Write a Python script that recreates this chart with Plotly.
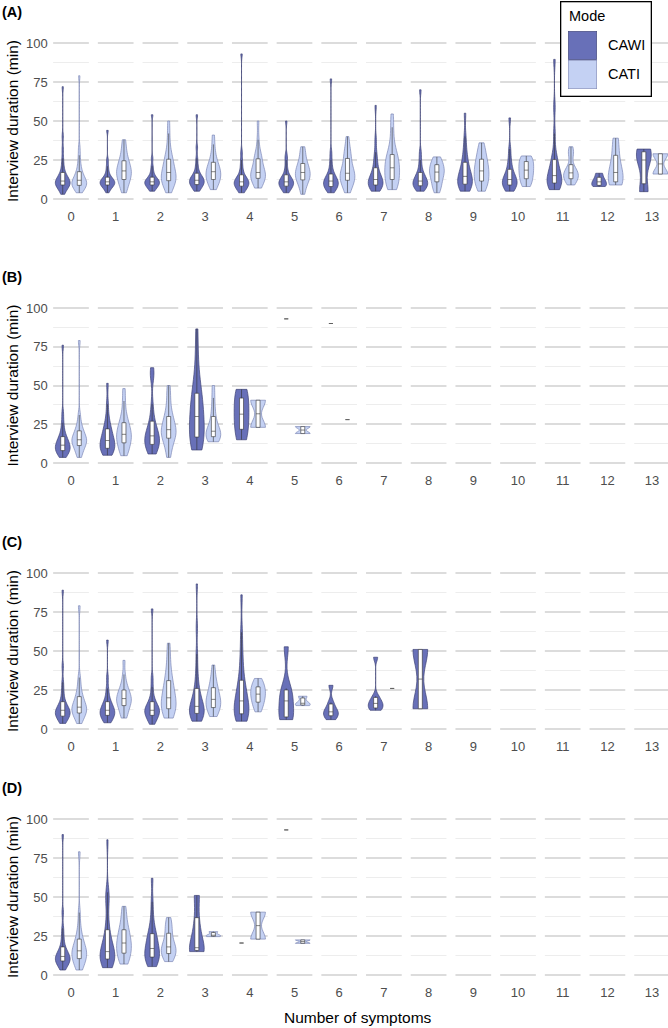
import numpy as np
import plotly.graph_objects as go

FIG_W, FIG_H = 668, 1028

# ---------------- data (interview duration in minutes) -------------
symptom_counts = list(range(14))
tick_labels = [str(c) for c in symptom_counts]
y_ticks = [0, 25, 50, 75, 100]
y_minor = [12.5, 37.5, 62.5, 87.5]
modes = ["CAWI", "CATI"]
panel_names = ["A", "B", "C", "D"]

A_CAWI = [
    [3, 5, 6, 7, 8, 8, 9, 9, 10, 10, 11, 11, 11, 12, 12, 13, 14, 15, 15, 17, 19, 22, 26, 32, 40, 72],
    [4, 6, 7, 8, 8, 9, 9, 10, 10, 11, 11, 11, 12, 12, 13, 14, 14, 16, 18, 21, 25, 44],
    [5, 6, 7, 8, 8, 9, 9, 10, 10, 11, 11, 11, 12, 12, 13, 14, 14, 16, 18, 21, 26, 54],
    [5, 6, 7, 8, 9, 9, 10, 10, 11, 11, 12, 12, 13, 13, 14, 15, 15, 17, 19, 22, 26, 33, 54],
    [4, 5, 6, 7, 8, 8, 9, 9, 10, 10, 11, 11, 12, 12, 13, 14, 14, 16, 18, 21, 25, 30, 93],
    [4, 5, 6, 7, 8, 8, 9, 9, 10, 10, 11, 11, 12, 12, 13, 14, 14, 16, 18, 21, 25, 28, 50],
    [4, 5, 6, 7, 8, 8, 9, 9, 10, 11, 11, 12, 12, 13, 14, 15, 16, 18, 21, 25, 30, 77],
    [5, 6, 7, 8, 8, 9, 10, 10, 11, 11, 12, 13, 14, 15, 16, 18, 20, 23, 26, 30, 38, 60],
    [5, 6, 7, 8, 8, 9, 10, 10, 11, 11, 12, 13, 14, 15, 16, 18, 21, 25, 30, 70],
    [5, 6, 7, 8, 9, 10, 11, 12, 13, 14, 15, 16, 18, 20, 22, 25, 28, 33, 40, 55],
    [5, 6, 7, 8, 9, 10, 11, 11, 12, 13, 14, 15, 17, 19, 22, 26, 32, 52],
    [6, 7, 8, 9, 10, 11, 12, 13, 14, 15, 17, 19, 21, 23, 26, 30, 42, 59, 89.5],
    [8, 9, 11, 13, 16.5],
    [4.7, 25, 32],
]
A_CATI = [
    [4, 5, 6, 7, 8, 8, 9, 9, 10, 10, 11, 11, 12, 12, 13, 14, 15, 16, 17, 19, 21, 24, 28, 33, 79],
    [4, 7, 9, 11, 12, 14, 15, 16, 17, 18, 19, 20, 22, 23, 25, 27, 30, 34, 38],
    [4, 7, 9, 10, 11, 12, 13, 14, 15, 16, 17, 18, 20, 22, 24, 25, 27, 30, 35, 42, 50],
    [6, 8, 10, 11, 12, 13, 14, 15, 16, 17, 18, 19, 20, 21, 23, 24, 27, 30, 35, 41],
    [7, 9, 11, 12, 13, 14, 15, 16, 16, 17, 18, 20, 22, 25, 26, 28, 30, 38, 50],
    [3, 6, 9, 11, 12, 13, 14, 15, 16, 17, 18, 19, 20, 22, 23, 25, 28, 31, 33.5],
    [4, 7, 9, 11, 12, 13, 14, 15, 16, 17, 18, 20, 23, 26, 28, 30, 34, 40],
    [6, 8, 9, 10, 12, 14, 16, 18, 19, 20, 22, 24, 26, 27, 29, 32, 38, 46, 54.5],
    [4, 7, 9, 11, 13, 15, 17, 17.5, 18, 20, 22, 23, 25, 27],
    [5, 8, 10, 11, 13, 15, 17, 18, 20, 22, 24, 26, 29, 32, 36],
    [8, 10, 12, 14, 16, 18, 19, 21, 23, 25, 26, 27.6],
    [9, 11, 12, 13, 14, 15, 16.5, 17, 18, 19, 22, 28, 30, 33.5],
    [9, 10, 14, 17, 22, 30, 39],
    [16, 29],
]

B_CAWI = [
    [3.6, 5, 6, 7, 7, 8, 9, 10, 10, 11, 11, 12, 13, 14, 15, 16, 17, 19, 22, 26, 32, 76],
    [5, 6, 7, 8, 9, 10, 11, 12, 13, 14, 15, 16, 18, 20, 21, 23, 26, 30, 38, 51.4],
    [5.8, 7, 8, 10, 11, 12, 13, 14, 15, 16, 17, 18, 19, 21, 22, 24, 27, 31, 38, 55, 58, 61.5],
    [8.4, 10, 12, 14, 16, 19, 22, 25, 27, 30, 33, 36, 40, 42, 46, 50, 58, 70, 86.5],
    [15, 24, 31.5, 40, 47.5],
    [93],
    [90],
    [], [], [], [], [], [], [],
]
B_CATI = [
    [3.6, 6, 8, 10, 11, 12, 13, 14, 15, 15, 16, 17, 18, 20, 21, 23, 26, 31, 79],
    [4.7, 7, 9, 11, 13, 14, 16, 17, 18, 19, 21, 23, 24, 26, 29, 33, 40, 48],
    [3.6, 8, 12, 14, 16, 18, 19, 20, 21, 22, 24, 26, 28, 30, 33, 38, 44, 50],
    [13.7, 15, 16, 17, 18, 19, 20, 21, 23, 26, 30, 35, 42, 50],
    [23, 40.5],
    [19, 23.5],
    [28],
    [], [], [], [], [], [], [],
]

C_CAWI = [
    [3.6, 5, 6, 7, 8, 8, 9, 10, 10, 11, 11, 12, 12, 13, 14, 15, 16, 18, 21, 25, 30, 40, 89],
    [4, 5, 6, 7, 8, 9, 10, 10, 11, 11, 12, 13, 14, 15, 16, 17, 19, 22, 26, 33, 57],
    [3, 5, 6, 7, 8, 9, 10, 11, 11, 12, 12, 13, 14, 15, 16, 17, 19, 22, 27, 33, 77],
    [5, 6, 7, 8, 9, 10, 11, 12, 13, 13, 14, 15, 17, 19, 21, 23, 26, 31, 38, 48, 65, 93],
    [5, 6, 7, 8, 9, 10, 12, 13, 15, 16, 18, 20, 22, 25, 27, 30, 35, 42, 50, 62, 86],
    [6, 7, 10, 18, 22, 26, 52.7],
    [6, 8, 10, 11, 13, 17, 28],
    [12, 13, 15, 16.4, 18, 21, 46],
    [13, 51],
    [], [], [], [], [],
]
C_CATI = [
    [3.5, 6, 8, 9, 10, 11, 12, 13, 13.5, 14, 15, 16, 18, 20, 21, 24, 28, 33, 79],
    [7, 9, 11, 13, 15, 16, 17, 18, 19, 20, 21, 22, 24, 25, 27, 30, 35, 44],
    [7, 9, 11, 12, 13, 15, 17, 18, 19, 21, 23, 26, 29, 31, 34, 40, 47, 55],
    [8, 10, 12, 13, 14, 16, 17, 18, 19, 20, 22, 24, 26, 28, 31, 35, 41],
    [11, 14, 16.4, 18, 20, 21.7, 23, 25, 26, 28, 30, 32.4],
    [15, 16.5, 21],
    [],
    [26],
    [], [], [], [], [], [],
]

D_CAWI = [
    [3.2, 5, 6, 7, 8, 9, 9, 10, 10, 11, 11.8, 12, 13, 14, 15, 16, 18, 21, 25, 30, 40, 90],
    [4.7, 6, 7, 8, 9, 10, 11, 12, 13, 14, 14.3, 15, 17, 19, 21, 23, 26, 30, 36, 47, 50, 53, 86.7],
    [5.4, 7, 8, 9, 10, 12, 13, 14, 15, 16, 17, 19, 21, 23, 24, 26, 28, 32, 38, 47, 62],
    [15, 16, 17.5, 32, 51],
    [20.5],
    [93],
    [], [], [], [], [], [], [], [],
]
D_CATI = [
    [3.2, 5, 7, 8, 10, 11, 12, 13, 14, 15, 16, 17, 18, 20, 22, 24, 27, 32, 40, 79],
    [7, 9, 11, 12, 14, 16, 17, 19, 20, 21, 23, 25, 27, 29, 31, 35, 40, 44],
    [8.6, 10, 12, 13, 14, 15, 16, 17, 18, 19, 21, 23, 26, 29, 31, 34, 36.8],
    [24.6, 25.5, 27.8],
    [23, 40.3],
    [20.3, 22.5],
    [], [], [], [], [], [], [], [],
]

DATA = {
    ("A", "CAWI"): A_CAWI, ("A", "CATI"): A_CATI,
    ("B", "CAWI"): B_CAWI, ("B", "CATI"): B_CATI,
    ("C", "CAWI"): C_CAWI, ("C", "CATI"): C_CATI,
    ("D", "CAWI"): D_CAWI, ("D", "CATI"): D_CATI,
}

# ---------------- style / layout ---------------------------------------------------------
FONT = "Liberation Sans, Arial, Helvetica, sans-serif"
FILL = {"CAWI": "#6870B8", "CATI": "#C4D1F3"}
EDGE = {"CAWI": "#3F4475", "CATI": "#7D86B5"}
DODGE = {"CAWI": -0.185, "CATI": 0.185}
VIOLIN_W = 0.33

# pixel rows of the 100 and 0 gridlines of each panel
panel_px = [(43, 199), (308, 463), (573, 729), (819, 975)]
cat0_px, cat_step = 71.0, 44.7
x_left_px = cat0_px - 0.5 * cat_step
x_range = [-0.5, (FIG_W - cat0_px) / cat_step]


def px_x(p):
    return p / FIG_W


def px_y(p):
    return 1 - p / FIG_H


def bw_nrd0(vals):
    """Kernel bandwidth rule used by ggplot2's geom_violin (R's bw.nrd0)."""
    v = np.asarray(vals, dtype=float)
    sd = v.std(ddof=1)
    q1, q3 = np.percentile(v, [25, 75])
    lo = min(sd, (q3 - q1) / 1.34)
    if lo <= 0:
        lo = sd if sd > 0 else (abs(v[0]) if v[0] != 0 else 1.0)
    return 0.9 * lo * len(v) ** -0.2


fig = go.Figure()
layout = dict(
    width=FIG_W, height=FIG_H,
    margin=dict(l=0, r=0, t=0, b=0),
    paper_bgcolor="white", plot_bgcolor="white",
    showlegend=False,
    violinmode="overlay", boxmode="overlay",
    font=dict(family=FONT, color="#000000"),
)
shapes, annotations = [], []

for i, (pname, (y100, y0)) in enumerate(zip(panel_names, panel_px)):
    s = "" if i == 0 else str(i + 1)
    xa, ya = "x" + s, "y" + s
    ppu = (y0 - y100) / 100.0
    top, bot = y100 - 5 * ppu, y0 + 5 * ppu
    layout["xaxis" + s] = dict(
        domain=[px_x(x_left_px), 1], range=x_range, anchor=ya,
        tickmode="array", tickvals=symptom_counts, ticktext=tick_labels,
        showgrid=False, zeroline=False, showline=False, ticks="",
        tickfont=dict(size=13, color="#4D4D4D", family=FONT),
    )
    layout["yaxis" + s] = dict(
        domain=[px_y(bot), px_y(top)], range=[-5, 105], anchor=xa,
        tickmode="array", tickvals=y_ticks,
        showgrid=True, gridcolor="#DCDCDC", gridwidth=1.5,
        minor=dict(tickmode="array", tickvals=y_minor, showgrid=True,
                   gridcolor="#EDEDED", gridwidth=0.9),
        zeroline=False, showline=False, ticks="",
        tickfont=dict(size=13, color="#4D4D4D", family=FONT),
    )
    # white gaps between symptom categories (drawn over the gridlines, under the violins)
    for k in range(-1, len(symptom_counts)):
        shapes.append(dict(type="line", xref=xa, yref=ya,
                           x0=k + 0.5, x1=k + 0.5, y0=-5, y1=105,
                           line=dict(color="white", width=9), layer="between"))
    # panel tag
    annotations.append(dict(text="<b>(%s)</b>" % pname, xref="paper", yref="paper",
                            x=0.0, y=px_y(y100 - 31), xanchor="left", yanchor="middle",
                            showarrow=False, font=dict(size=14.5, color="black", family=FONT)))
    # y title
    annotations.append(dict(text="Interview duration (min)", xref="paper", yref="paper",
                            x=px_x(12), y=px_y((top + bot) / 2), textangle=-90,
                            xanchor="center", yanchor="middle", showarrow=False,
                            font=dict(size=15.5, color="black", family=FONT)))

    for mode in modes:
        groups = DATA[(pname, mode)]
        for c, vals in zip(symptom_counts, groups):
            if len(vals) == 0:
                continue
            pos = c + DODGE[mode]
            if len(vals) >= 2:
                fig.add_trace(go.Violin(
                    x=[pos] * len(vals), y=vals, xaxis=xa, yaxis=ya, name=mode,
                    width=VIOLIN_W, scalemode="width", spanmode="hard",
                    bandwidth=bw_nrd0(vals),
                    fillcolor=FILL[mode], opacity=1,
                    line=dict(color=EDGE[mode], width=0.7),
                    box=dict(visible=True, width=0.27, fillcolor="white",
                             line=dict(color="#333333", width=0.6)),
                    meanline=dict(visible=False), points=False,
                    hoverinfo="skip", showlegend=False,
                ))
            else:
                fig.add_trace(go.Box(
                    x=[pos], y=vals, xaxis=xa, yaxis=ya, name=mode,
                    width=0.09, fillcolor="white",
                    line=dict(color="#555555", width=0.6),
                    boxpoints=False, whiskerwidth=0,
                    hoverinfo="skip", showlegend=False,
                ))

# x axis title (bottom panel only)
annotations.append(dict(text="Number of symptoms", xref="paper", yref="paper",
                        x=px_x((x_left_px + FIG_W) / 2), y=px_y(1017),
                        xanchor="center", yanchor="middle", showarrow=False,
                        font=dict(size=15.5, color="black", family=FONT)))

# legend key box (drawn with annotations)
annotations.append(dict(text=" ", xref="paper", yref="paper",
                        x=px_x(606), y=px_y(49), xanchor="center", yanchor="middle",
                        width=89, height=93, bgcolor="white", bordercolor="black",
                        borderwidth=1.3, borderpad=0, showarrow=False,
                        font=dict(size=2)))
for j, mode in enumerate(modes):
    ytop = 31 + j * 29
    annotations.append(dict(text=" ", xref="paper", yref="paper",
                            x=px_x(582.5), y=px_y(ytop + 14.25), xanchor="center",
                            yanchor="middle", width=28, height=27.5,
                            bgcolor=FILL[mode], bordercolor=EDGE[mode], borderwidth=0.6,
                            borderpad=0, showarrow=False, font=dict(size=2)))
    annotations.append(dict(text=mode, xref="paper", yref="paper",
                            x=px_x(606), y=px_y(ytop + 14.5), xanchor="left",
                            yanchor="middle", showarrow=False,
                            font=dict(size=14.5, color="black", family=FONT)))
annotations.append(dict(text="Mode", xref="paper", yref="paper",
                        x=px_x(567), y=px_y(16), xanchor="left", yanchor="middle",
                        showarrow=False, font=dict(size=14.5, color="black", family=FONT)))

layout["shapes"] = shapes
layout["annotations"] = annotations
fig.update_layout(**layout)
fig.write_html("out.html")
